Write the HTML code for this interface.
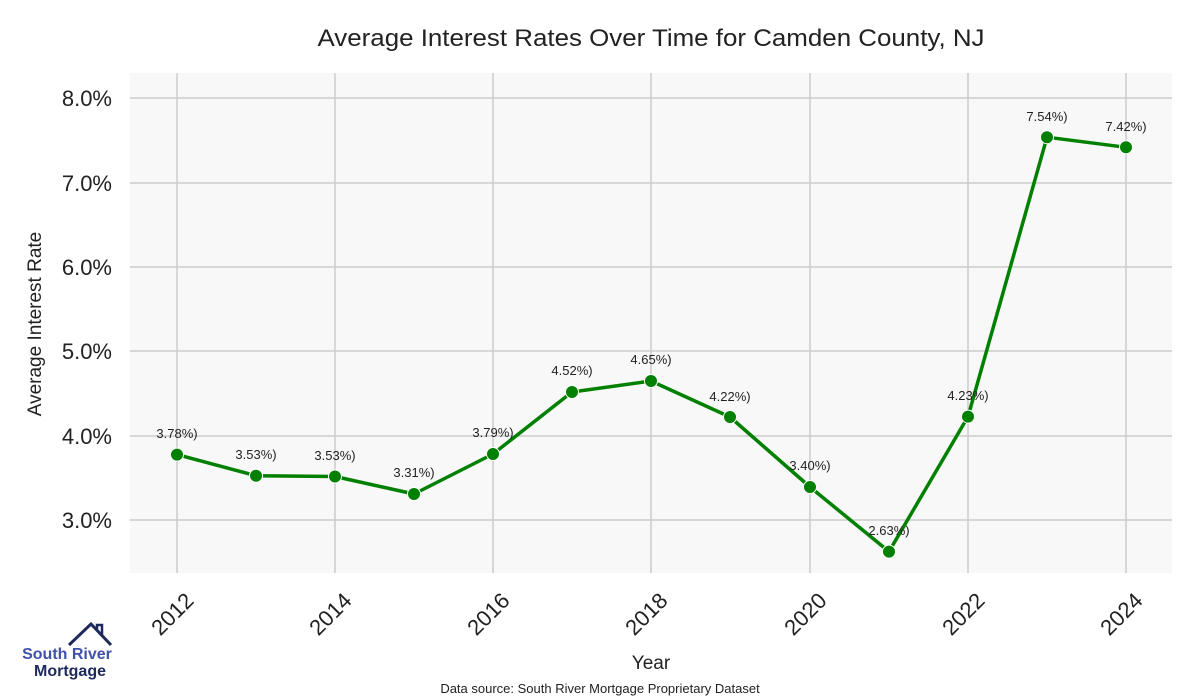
<!DOCTYPE html>
<html><head><meta charset="utf-8"><style>
html,body{margin:0;padding:0;background:#fff;}
svg{display:block;font-family:"Liberation Sans",sans-serif;}
</style></head><body>
<svg width="1200" height="700" viewBox="0 0 1200 700" xmlns="http://www.w3.org/2000/svg">
<rect width="1200" height="700" fill="#fff"/>
<text x="651" y="46" font-size="24" text-anchor="middle" fill="#222" textLength="667" lengthAdjust="spacingAndGlyphs">Average Interest Rates Over Time for Camden County, NJ</text>
<rect x="130" y="73" width="1042" height="500" fill="#f8f8f8"/>
<g stroke="#cccccc" stroke-width="1.5">
<line x1="130" x2="1172" y1="98" y2="98"/>
<line x1="130" x2="1172" y1="183" y2="183"/>
<line x1="130" x2="1172" y1="267" y2="267"/>
<line x1="130" x2="1172" y1="351" y2="351"/>
<line x1="130" x2="1172" y1="436" y2="436"/>
<line x1="130" x2="1172" y1="520" y2="520"/>
<line x1="177" x2="177" y1="73" y2="573"/>
<line x1="335" x2="335" y1="73" y2="573"/>
<line x1="493" x2="493" y1="73" y2="573"/>
<line x1="651" x2="651" y1="73" y2="573"/>
<line x1="810" x2="810" y1="73" y2="573"/>
<line x1="968" x2="968" y1="73" y2="573"/>
<line x1="1126" x2="1126" y1="73" y2="573"/>
</g>
<g font-size="22" fill="#222" text-anchor="end">
<text x="112" y="106">8.0%</text>
<text x="112" y="191">7.0%</text>
<text x="112" y="275">6.0%</text>
<text x="112" y="359">5.0%</text>
<text x="112" y="444">4.0%</text>
<text x="112" y="528">3.0%</text>
</g>
<text transform="translate(41,324) rotate(-90)" font-size="19" text-anchor="middle" fill="#222">Average Interest Rate</text>
<g font-size="22" fill="#222" text-anchor="end">
<text transform="translate(195,602) rotate(-45)">2012</text>
<text transform="translate(353,602) rotate(-45)">2014</text>
<text transform="translate(511,602) rotate(-45)">2016</text>
<text transform="translate(669,602) rotate(-45)">2018</text>
<text transform="translate(828,602) rotate(-45)">2020</text>
<text transform="translate(986,602) rotate(-45)">2022</text>
<text transform="translate(1144,602) rotate(-45)">2024</text>
</g>
<text x="651" y="669" font-size="19" text-anchor="middle" fill="#222">Year</text>
<text x="600" y="693" font-size="13" text-anchor="middle" fill="#222">Data source: South River Mortgage Proprietary Dataset</text>
<polyline fill="none" stroke="#008000" stroke-width="3.5" stroke-linejoin="round" points="177,454.6 256,475.7 335,476.5 414,494 493,454 572,392 651,381 730,417 810,487 889,551.6 968,416.6 1047,137.2 1126,147.3"/>
<g fill="#008000" stroke="#fff" stroke-width="1">
<circle cx="177" cy="454.6" r="6.5"/><circle cx="256" cy="475.7" r="6.5"/><circle cx="335" cy="476.5" r="6.5"/>
<circle cx="414" cy="494" r="6.5"/><circle cx="493" cy="454" r="6.5"/><circle cx="572" cy="392" r="6.5"/>
<circle cx="651" cy="381" r="6.5"/><circle cx="730" cy="417" r="6.5"/><circle cx="810" cy="487" r="6.5"/>
<circle cx="889" cy="551.6" r="6.5"/><circle cx="968" cy="416.6" r="6.5"/><circle cx="1047" cy="137.2" r="6.5"/>
<circle cx="1126" cy="147.3" r="6.5"/>
</g>
<g font-size="13" fill="#222" text-anchor="middle">
<text x="177" y="438">3.78%)</text><text x="256" y="459">3.53%)</text><text x="335" y="460">3.53%)</text>
<text x="414" y="477">3.31%)</text><text x="493" y="437">3.79%)</text><text x="572" y="375">4.52%)</text>
<text x="651" y="364">4.65%)</text><text x="730" y="401">4.22%)</text><text x="810" y="470">3.40%)</text>
<text x="889" y="535">2.63%)</text><text x="968" y="400">4.23%)</text><text x="1047" y="121">7.54%)</text>
<text x="1126" y="131">7.42%)</text>
</g>
<polyline fill="none" stroke="#1f2a5c" stroke-width="3" points="69,645 91,624 111,645"/>
<polyline fill="none" stroke="#1f2a5c" stroke-width="2.5" points="97,630 97,625 102,625 102,635"/>
<text x="67" y="659" font-size="16" font-weight="bold" fill="#3f51a8" text-anchor="middle">South River</text>
<text x="70" y="676" font-size="16" font-weight="bold" fill="#1f2a5c" text-anchor="middle">Mortgage</text>
</svg>
</body></html>
